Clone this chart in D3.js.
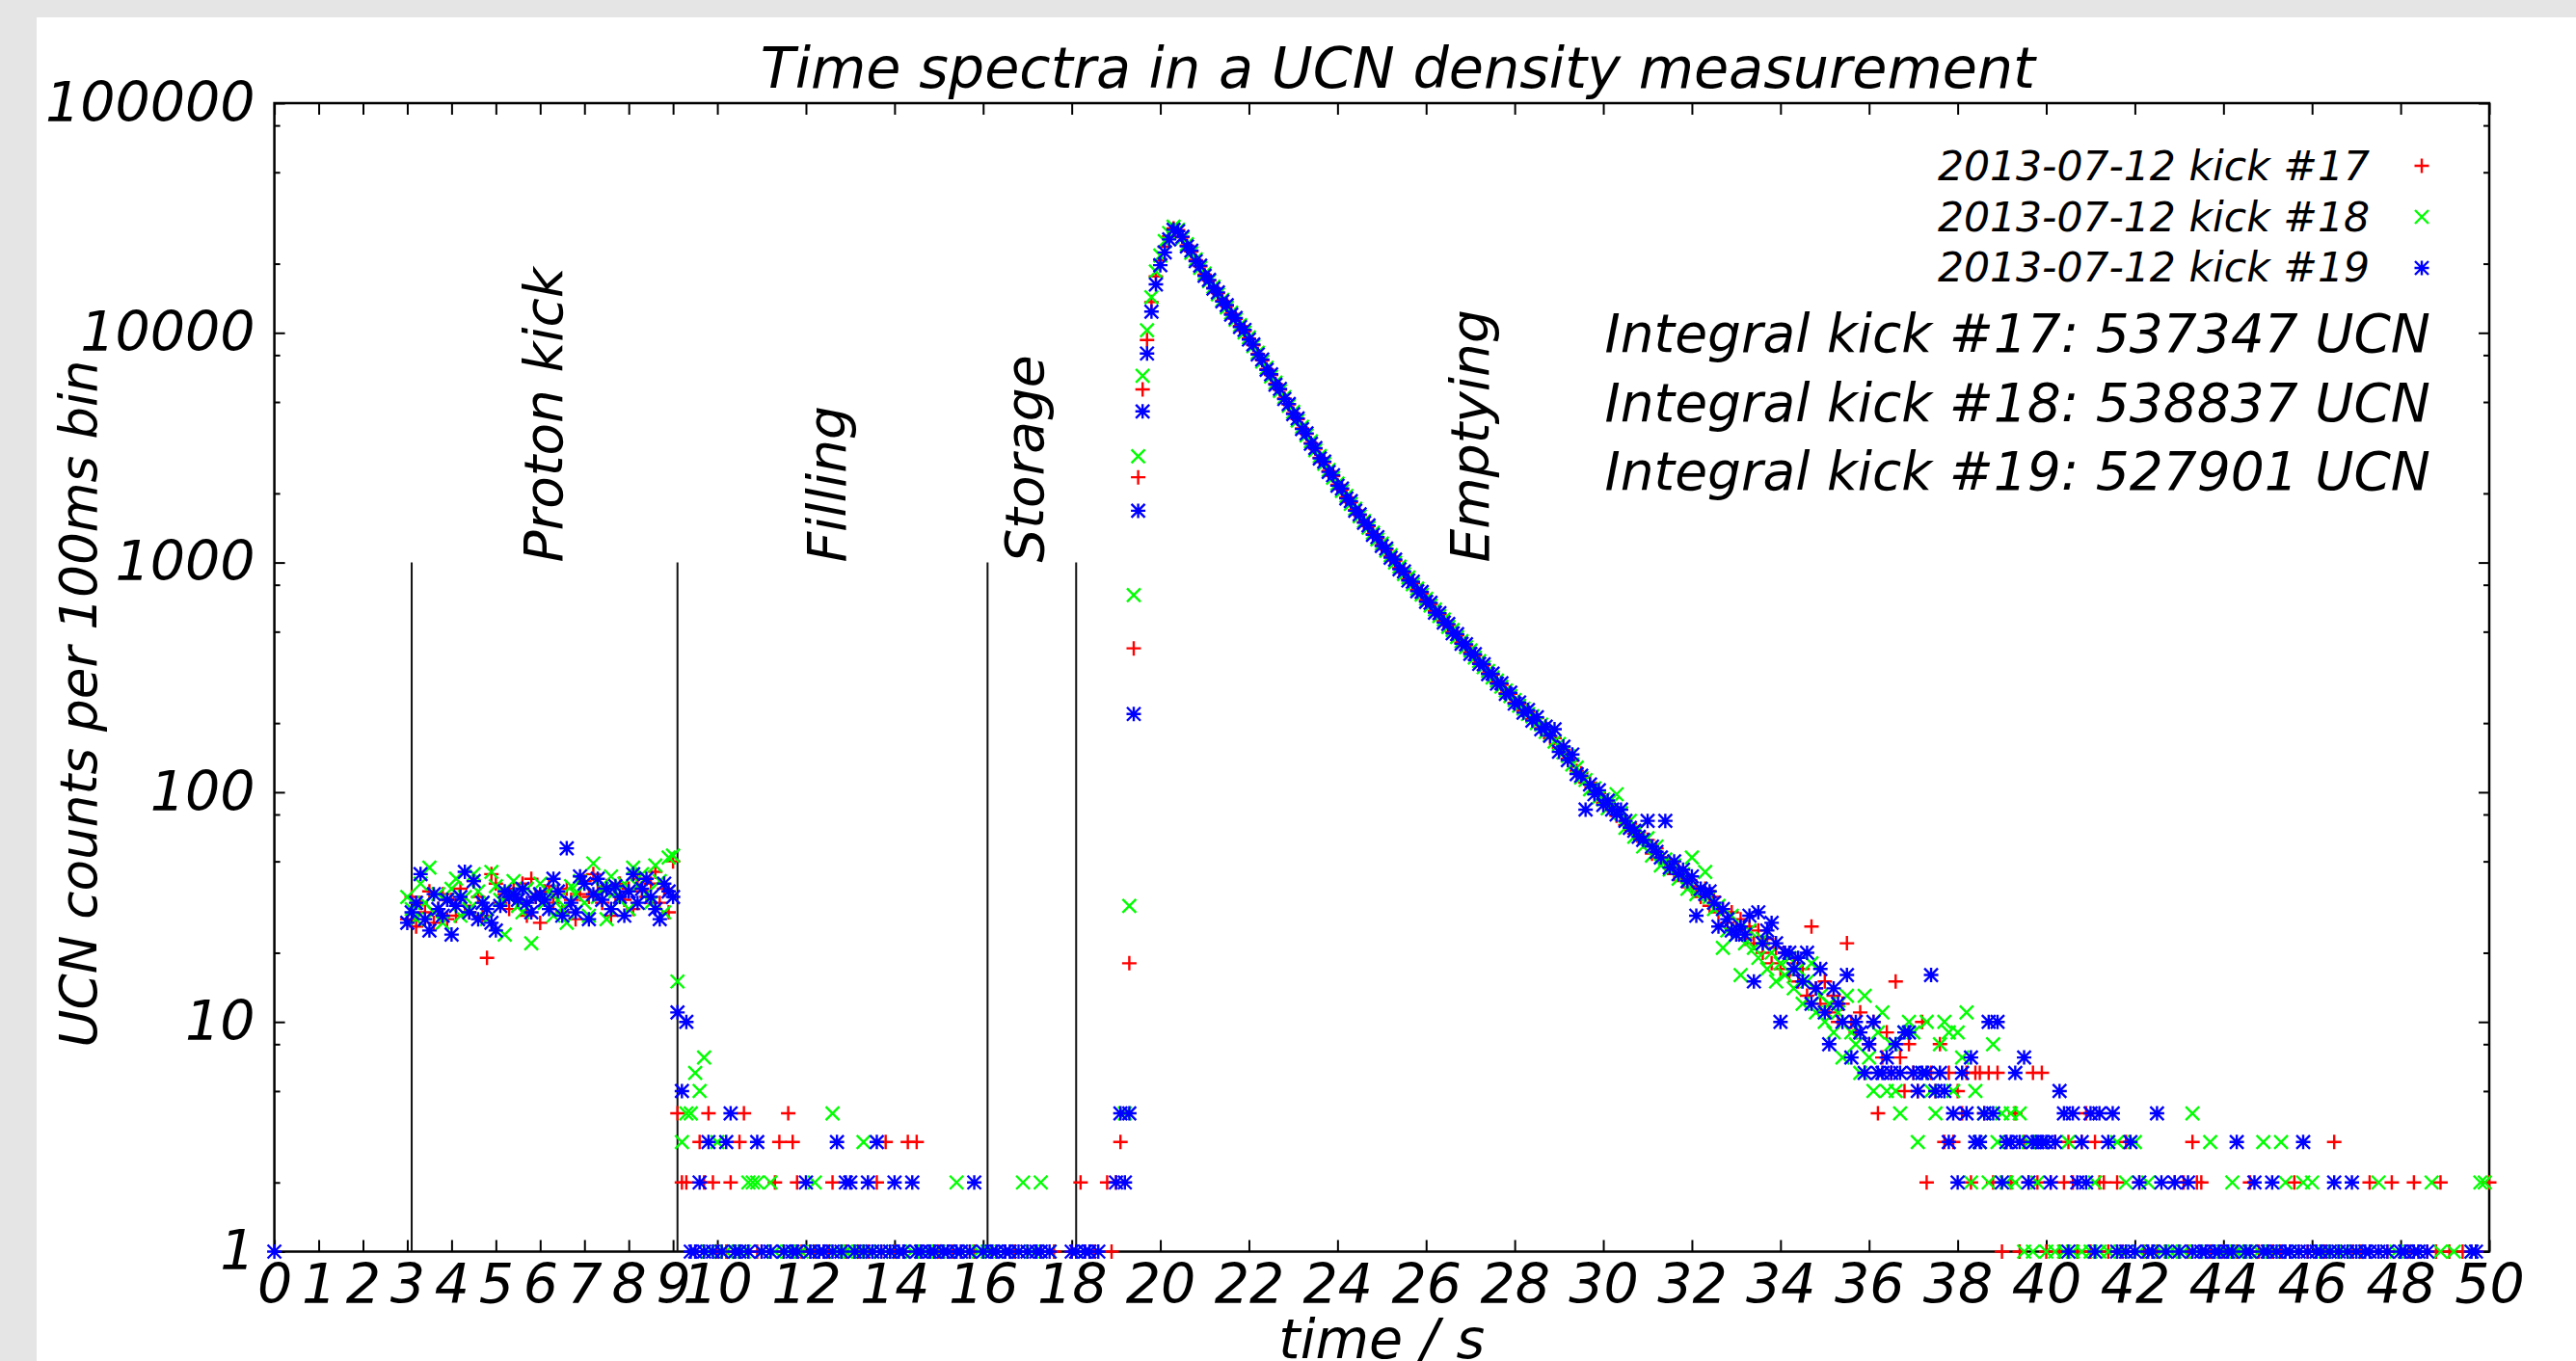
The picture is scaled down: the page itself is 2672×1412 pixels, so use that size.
<!DOCTYPE html>
<html>
<head>
<meta charset="utf-8">
<script src="https://cdn.jsdelivr.net/npm/d3@7"></script>
<style>
body{margin:0;background:#e5e5e5;}
svg{display:block;}
</style>
</head>
<body>
<svg id="main-vis" width="2672" height="1412"></svg>
<script>
var margin = ({top: 107, right: 90, bottom: 113.5, left: 284.6})
var width = 2672;
var height = 1412;

// UCN counts per 100ms bin, one entry per bin from t=0.0 s to t=50.0 s
var kick17 = [
0,0,0,0,0,0,0,0,0,0,
0,0,0,0,0,0,0,0,0,0,
0,0,0,0,0,0,0,0,0,0,
28,35,26,33,30,37,27,31,36,28,
34,29,38,32,30,41,35,29,19,44,
40,33,36,31,38,34,40,29,42,35,
27,37,39,33,36,30,38,34,28,36,
41,35,44,37,33,39,29,36,40,34,
38,31,42,37,35,40,45,33,38,30,
50,4,2,2,0,1,3,2,4,2,
1,0,1,2,1,3,4,1,0,1,
1,0,1,2,3,1,4,3,2,1,
0,1,1,0,1,1,2,0,1,1,
0,1,1,0,1,0,2,1,3,1,
1,0,1,3,0,3,1,0,1,0,
1,1,0,1,0,1,0,1,1,0,
0,0,1,0,0,1,0,1,0,0,
1,0,0,1,0,0,1,0,0,0,
1,0,2,1,0,1,0,0,2,1,
2,3,0,18,423,2350,5670,9310,13620,17600,
20700,23700,26300,28500,28000,26100,24000,22600,20700,19500,
17900,16900,15700,14900,13800,13100,12100,11500,10700,10200,
9450,8850,8100,7600,6950,6550,6000,5650,5180,4880,
4470,4210,3840,3630,3310,3130,2860,2730,2500,2380,
2180,2080,1920,1830,1690,1610,1500,1440,1330,1280,
1190,1140,1060,1020,945,905,845,815,760,735,
685,660,615,595,555,535,498,482,448,437,
405,395,365,358,330,325,300,294,270,268,
245,243,226,225,208,210,190,190,172,172,
156,153,140,137,124,121,110,110,100,99,
90,88,86,79,79,72,73,66,67,61,
62,54,57,52,49,50,44,47,41,42,
38,39,35,38,32,35,30,31,27,30,
25,28,23,26,22,25,20,23,18,21,
17,20,16,18,15,17,13,26,14,12,
15,11,13,10,12,22,10,9,11,6,
8,10,4,7,9,6,15,7,5,8,
6,5,10,2,6,5,8,3,6,3,
5,4,6,2,6,6,4,6,2,6,
1,3,2,4,1,3,2,6,2,6,
1,2,3,1,2,3,2,1,3,4,
1,3,2,2,1,0,2,1,3,0,
1,2,1,0,1,1,0,1,0,2,
1,2,1,3,2,2,0,1,1,0,
1,0,1,1,0,1,2,0,1,0,
1,1,0,1,0,0,2,1,0,1,
0,1,0,1,0,3,1,0,0,1,
0,1,0,2,0,1,0,1,2,0,
1,0,1,2,0,0,1,0,1,2,
0,1,0,0,1,0,0,1,0,0,
2]

var kick18 = [
0,0,0,0,0,0,0,0,0,0,
0,0,0,0,0,0,0,0,0,0,
0,0,0,0,0,0,0,0,0,0,
35,31,28,40,33,47,30,36,27,34,
38,42,29,35,31,44,37,33,28,45,
39,34,24,36,41,32,30,38,22,35,
40,33,37,29,34,31,27,39,36,41,
33,29,49,35,38,28,43,37,34,40,
31,47,39,44,36,33,48,41,30,52,
53,15,3,4,4,6,5,7,1,0,
3,1,1,0,1,1,1,2,2,2,
1,0,2,1,0,1,1,0,1,1,
0,1,2,1,1,0,4,1,0,1,
1,0,1,3,1,1,0,1,0,1,
0,1,1,0,1,0,1,1,0,1,
1,0,1,0,2,1,0,1,0,1,
0,1,0,1,0,1,0,0,1,2,
0,1,0,2,0,1,0,0,0,0,
0,0,0,1,0,0,0,0,0,0,
0,0,4,32,722,2900,6500,10260,14300,18500,
21700,25100,27200,29000,28100,25800,24300,22300,20900,19200,
18100,16800,15900,14700,13900,12900,12250,11400,10800,10050,
9550,8750,8200,7500,7050,6450,6080,5580,5250,4820,
4530,4150,3900,3580,3370,3080,2910,2690,2530,2340,
2210,2050,1950,1800,1715,1590,1515,1420,1350,1260,
1210,1125,1075,1000,960,890,860,805,770,725,
695,650,625,585,565,525,508,474,455,428,
414,386,372,350,337,316,306,288,277,262,
252,238,231,219,214,200,197,183,178,166,
162,149,144,132,128,116,113,103,104,95,
93,85,89,98,81,70,75,64,69,58,
63,53,58,48,51,46,48,42,44,38,
52,36,38,45,35,31,32,21,25,29,
24,16,22,25,21,19,23,17,20,15,
18,16,19,14,17,12,15,18,11,13,
10,12,9,11,7,13,9,8,6,13,
7,5,9,11,5,8,5,4,9,10,
9,3,6,10,5,4,8,10,9,5,
9,7,11,2,5,3,4,2,8,3,
4,2,4,2,4,1,3,1,2,3,
1,0,1,0,1,3,1,0,1,0,
1,2,1,0,1,0,3,1,2,0,
3,1,0,2,1,0,1,0,1,1,
0,1,0,4,1,0,1,3,0,1,
1,0,2,1,1,0,1,0,1,3,
0,1,0,3,2,1,0,1,2,0,
2,1,0,1,0,1,0,1,0,0,
1,0,1,0,0,2,0,1,0,1,
0,1,0,0,1,0,0,2,0,1,
0,0,1,0,0,0,1,0,2,2,
0]

var kick19 = [
1,0,0,0,0,0,0,0,0,0,
0,0,0,0,0,0,0,0,0,0,
0,0,0,0,0,0,0,0,0,0,
27,30,33,44,28,25,36,31,29,34,
24,32,35,45,30,41,28,33,31,27,
25,32,37,35,36,34,38,33,30,35,
36,34,31,42,37,29,57,33,30,43,
40,28,36,42,34,38,31,39,35,29,
37,44,33,38,42,35,31,28,40,37,
35,11,5,10,1,1,2,1,3,1,
0,1,3,4,1,1,0,1,0,3,
1,0,1,0,0,1,0,1,1,0,
2,1,0,1,1,0,1,3,1,2,
2,1,0,1,2,1,3,1,0,1,
2,1,1,0,2,1,1,0,1,1,
0,1,1,0,1,1,0,1,2,0,
1,0,1,1,0,1,1,0,1,0,
1,0,1,1,0,1,0,0,0,0,
1,1,0,1,1,0,1,0,0,0,
2,4,2,4,219,1680,4550,8130,12370,16250,
19700,22400,25500,28100,27700,26200,23800,22800,20500,19600,
17700,17000,15600,15000,13700,13200,12000,11600,10600,10300,
9350,8900,8050,7650,6900,6600,5950,5700,5150,4900,
4430,4240,3810,3650,3290,3150,2840,2750,2480,2400,
2160,2100,1900,1850,1680,1620,1490,1450,1320,1290,
1180,1150,1050,1030,935,915,835,825,750,745,
675,668,605,602,548,540,492,488,443,441,
400,399,362,361,327,328,297,298,268,271,
243,246,222,228,205,212,188,193,176,188,
150,158,138,146,120,118,84,108,98,102,
88,92,84,80,84,75,70,68,64,62,
75,58,55,52,75,47,50,44,46,41,
43,29,38,36,37,33,26,31,28,25,
24,26,24,29,15,30,22,25,27,22,
10,20,20,17,19,15,20,12,14,17,
11,8,14,12,10,16,7,10,9,6,
8,10,6,6,7,6,8,6,9,9,
6,5,6,6,16,5,6,5,3,4,
2,6,4,7,3,3,4,10,4,10,
2,3,3,6,3,7,2,3,3,3,
3,2,3,5,4,1,4,2,3,2,
4,1,4,0,3,4,1,0,1,3,
1,2,0,1,1,4,2,1,0,2,
1,0,2,1,0,1,1,0,1,1,
0,1,1,3,0,1,1,2,0,1,
1,2,1,0,1,1,0,1,3,1,
0,1,1,0,1,2,1,0,1,2,
1,0,1,1,0,1,0,1,0,0,
1,1,0,1,1,0,1,0,0,0,
0,0,0,0,0,0,1,1,0,0,
0]

var binWidth = 0.1;
var seriesNames = ["2013-07-12 kick #17", "2013-07-12 kick #18", "2013-07-12 kick #19"];
var integralLines = ["Integral kick #17: 537347 UCN", "Integral kick #18: 538837 UCN", "Integral kick #19: 527901 UCN"];
var xTicks = [0,1,2,3,4,5,6,7,8,9,10,12,14,16,18,20,22,24,26,28,30,32,34,36,38,40,42,44,46,48,50];
var yTicks = [1,10,100,1000,10000,100000];
var yMinorTicks = [2,5,8,20,50,80,200,500,800,2000,5000,8000,20000,50000,80000];
var phaseLines = [3.1, 9.1, 16.1, 18.1];
var phaseNames = ["Proton kick", "Filling", "Storage", "Emptying"];
var phaseNameAt = [6.5, 12.9, 17.35, 27.4];

var colors = ["#ff0000", "#00ff00", "#0000ff"];
var markers = [
  "M-7.5,0H7.5M0,-7.5V7.5",
  "M-7,-7L7,7M-7,7L7,-7",
  "M-7.5,0H7.5M0,-7.5V7.5M-7,-7L7,7M-7,7L7,-7"
];
var font = '"DejaVu Sans", sans-serif';

var x = d3.scaleLinear()
    .domain([0, 50])
    .range([margin.left, width - margin.right])

var y = d3.scaleLog()
    .domain([1, 100000])
    .range([height - margin.bottom, margin.top])

chart()

function chart(){
    var svg = d3.select('#main-vis')

    svg.append('rect')
        .attr('x', 38).attr('y', 18)
        .attr('width', width - 38).attr('height', height - 18)
        .attr('fill', 'white');

    // axes: ticks point inward on all four sides
    function styleAxis(g){
        g.select('.domain').remove();
        g.selectAll('.tick line').attr('stroke', 'black').attr('stroke-width', 2);
        g.selectAll('.tick text')
            .attr('fill', 'black')
            .attr('font-family', font)
            .attr('font-style', 'italic')
            .attr('font-size', 57);
    }

    svg.append('g')
        .attr('transform', 'translate(0,' + y(1) + ')')
        .call(d3.axisBottom(x).tickValues(xTicks).tickSizeInner(-12).tickSizeOuter(0)
            .tickPadding(13).tickFormat(d3.format('d')))
        .call(styleAxis);

    svg.append('g')
        .attr('transform', 'translate(0,' + y(100000) + ')')
        .call(d3.axisTop(x).tickValues(xTicks).tickSizeInner(-12).tickSizeOuter(0).tickFormat(''))
        .call(styleAxis);

    svg.append('g')
        .attr('transform', 'translate(' + x(0) + ',0)')
        .call(d3.axisLeft(y).tickValues(yTicks).tickSizeInner(-11).tickSizeOuter(0)
            .tickPadding(20).tickFormat(d3.format('d')))
        .call(styleAxis);

    svg.append('g')
        .attr('transform', 'translate(' + x(0) + ',0)')
        .call(d3.axisLeft(y).tickValues(yMinorTicks).tickSizeInner(-6).tickSizeOuter(0).tickFormat(''))
        .call(styleAxis);

    svg.append('g')
        .attr('transform', 'translate(' + x(50) + ',0)')
        .call(d3.axisRight(y).tickValues(yTicks).tickSizeInner(-11).tickSizeOuter(0).tickFormat(''))
        .call(styleAxis);

    svg.append('g')
        .attr('transform', 'translate(' + x(50) + ',0)')
        .call(d3.axisRight(y).tickValues(yMinorTicks).tickSizeInner(-6).tickSizeOuter(0).tickFormat(''))
        .call(styleAxis);

    svg.append('rect')
        .attr('x', x(0)).attr('y', y(100000))
        .attr('width', x(50) - x(0)).attr('height', y(1) - y(100000))
        .attr('fill', 'none')
        .attr('stroke', 'black')
        .attr('stroke-width', 2.5);

    // phase boundaries and names
    svg.selectAll('.phase-line')
      .data(phaseLines)
      .enter()
      .append('line')
        .attr('class', 'phase-line')
        .attr('x1', d => x(d)).attr('x2', d => x(d))
        .attr('y1', y(1)).attr('y2', y(1000))
        .attr('stroke', '#111')
        .attr('stroke-width', 2);

    svg.selectAll('.phase-name')
      .data(phaseNames)
      .enter()
      .append('text')
        .attr('class', 'phase-name')
        .attr('transform', (d, i) => 'translate(' + x(phaseNameAt[i]) + ',' + y(1000) + ') rotate(-90)')
        .attr('font-family', font)
        .attr('font-style', 'italic')
        .attr('font-size', 55)
        .text(d => d);

    // data points, one group per kick
    [kick17, kick18, kick19].forEach(function(counts, k){
        var pts = counts.map((v, i) => ({t: i * binWidth, v: v})).filter(d => d.v > 0);
        svg.append('g')
          .selectAll('path')
          .data(pts)
          .enter()
          .append('path')
            .attr('d', markers[k])
            .attr('transform', d => 'translate(' + x(d.t) + ',' + y(d.v) + ')')
            .attr('fill', 'none')
            .attr('stroke', colors[k])
            .attr('stroke-width', 2.4);
    });

    // legend
    var legend = svg.append('g');
    seriesNames.forEach(function(name, k){
        legend.append('text')
            .attr('x', 2458).attr('y', 187 + k * 52.5)
            .attr('text-anchor', 'end')
            .attr('font-family', font)
            .attr('font-style', 'italic')
            .attr('font-size', 42.5)
            .text(name);
        legend.append('path')
            .attr('d', markers[k])
            .attr('transform', 'translate(2512,' + (172 + k * 53) + ')')
            .attr('fill', 'none')
            .attr('stroke', colors[k])
            .attr('stroke-width', 2.4);
    });

    svg.selectAll('.integral')
      .data(integralLines)
      .enter()
      .append('text')
        .attr('class', 'integral')
        .attr('x', 2521)
        .attr('y', (d, i) => 365 + i * 71.5)
        .attr('text-anchor', 'end')
        .attr('font-family', font)
        .attr('font-style', 'italic')
        .attr('font-size', 55)
        .text(d => d);

    svg.append('text')
        .attr('x', 1450).attr('y', 91)
        .attr('text-anchor', 'middle')
        .attr('font-family', font)
        .attr('font-style', 'italic')
        .attr('font-size', 58.8)
        .text('Time spectra in a UCN density measurement');

    svg.append('text')
        .attr('x', x(25)).attr('y', 1409)
        .attr('text-anchor', 'middle')
        .attr('font-family', font)
        .attr('font-style', 'italic')
        .attr('font-size', 57)
        .text('time / s');

    svg.append('text')
        .attr('transform', 'translate(100,730) rotate(-90)')
        .attr('text-anchor', 'middle')
        .attr('font-family', font)
        .attr('font-style', 'italic')
        .attr('font-size', 53.2)
        .text('UCN counts per 100ms bin');

    return svg.node();
}
</script>
</body>
</html>
